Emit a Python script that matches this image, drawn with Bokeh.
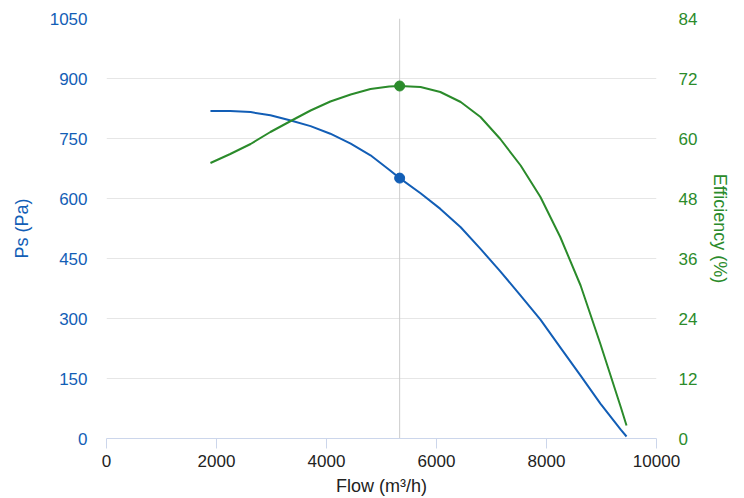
from bokeh.plotting import figure
from bokeh.models import Range1d, LinearAxis, FixedTicker, Span
from bokeh.embed import file_html
from bokeh.resources import INLINE

# ---- data ----
flow = [1890, 2250, 2620, 2980, 3350, 3710, 4070, 4440, 4800, 5140, 5330, 5710,
        6070, 6440, 6800, 7160, 7530, 7890, 8250, 8620, 8980, 9350, 9455]
ps = [819, 819, 816, 808, 795, 781, 762, 737, 708, 672, 651, 613,
      574, 528, 474, 418, 357, 297, 228, 157, 87, 22, 5]
eff = [55.1, 56.9, 58.9, 61.3, 63.5, 65.6, 67.4, 68.8, 69.9, 70.4, 70.5, 70.3,
       69.3, 67.3, 64.3, 59.9, 54.6, 48.3, 40.3, 30.6, 18.9, 6.3, 2.6]
duty_index = 10
x_ticks = [0, 2000, 4000, 6000, 8000, 10000]
ps_ticks = [0, 150, 300, 450, 600, 750, 900, 1050]
eff_ticks = [0, 12, 24, 36, 48, 60, 72, 84]

BLUE = "#125eb6"
GREEN = "#2b8b2b"
FONT = "Liberation Sans"

p = figure(width=744, height=498, output_backend="svg", toolbar_location=None,
           x_range=Range1d(0, 10000), y_range=Range1d(0, 1050),
           min_border_left=106, min_border_right=88, min_border_top=18, min_border_bottom=56)
p.extra_y_ranges = {"eff": Range1d(0, 84)}
p.outline_line_color = None
p.background_fill_color = "white"
p.border_fill_color = "white"

p.xgrid.grid_line_color = None
p.ygrid.grid_line_color = "#e6e6e6"
p.ygrid.ticker = FixedTicker(ticks=ps_ticks)

# x axis
xa = p.xaxis[0]
xa.ticker = FixedTicker(ticks=x_ticks)
xa.axis_label = "Flow (m³/h)"
xa.axis_line_color = "#ccd6eb"
xa.major_tick_line_color = "#ccd6eb"
xa.major_tick_out = 10
xa.major_tick_in = 0
xa.minor_tick_line_color = None
xa.major_label_standoff = 6
xa.major_label_text_font = FONT
xa.major_label_text_font_size = "17px"
xa.major_label_text_color = "#222222"
xa.axis_label_text_font = FONT
xa.axis_label_text_font_size = "18px"
xa.axis_label_text_font_style = "normal"
xa.axis_label_text_color = "#222222"
xa.axis_label_standoff = 6

# left axis
ya = p.yaxis[0]
ya.ticker = FixedTicker(ticks=ps_ticks)
ya.axis_label = "Ps (Pa)"
ya.axis_line_color = None
ya.major_tick_line_color = None
ya.minor_tick_line_color = None
ya.major_tick_out = 0
ya.major_tick_in = 0
ya.major_label_standoff = 19
ya.major_label_text_font = FONT
ya.major_label_text_font_size = "17px"
ya.major_label_text_color = BLUE
ya.axis_label_text_font = FONT
ya.axis_label_text_font_size = "18px"
ya.axis_label_text_font_style = "normal"
ya.axis_label_text_color = BLUE
ya.axis_label_standoff = 15

# right axis
ra = LinearAxis(y_range_name="eff", ticker=FixedTicker(ticks=eff_ticks))
ra.axis_label = "Efficiency (%)"
ra.axis_line_color = None
ra.major_tick_line_color = None
ra.minor_tick_line_color = None
ra.major_tick_out = 0
ra.major_tick_in = 0
ra.major_label_standoff = 22
ra.major_label_text_font = FONT
ra.major_label_text_font_size = "17px"
ra.major_label_text_color = GREEN
ra.axis_label_text_font = FONT
ra.axis_label_text_font_size = "18px"
ra.axis_label_text_font_style = "normal"
ra.axis_label_text_color = GREEN
ra.axis_label_standoff = 10
p.add_layout(ra, "right")

# duty point vertical line (behind the curves)
p.add_layout(Span(location=flow[duty_index], dimension="height", line_color="#cccccc",
                  line_width=1, level="underlay"))

p.line(flow, ps, line_color=BLUE, line_width=2, line_join="round")
p.line(flow, eff, line_color=GREEN, line_width=2, line_join="round", y_range_name="eff")

p.scatter([flow[duty_index]], [ps[duty_index]], size=10, color=BLUE)
p.scatter([flow[duty_index]], [eff[duty_index]], size=10, color=GREEN, y_range_name="eff")

open("out.html", "w").write(file_html(p, INLINE))
